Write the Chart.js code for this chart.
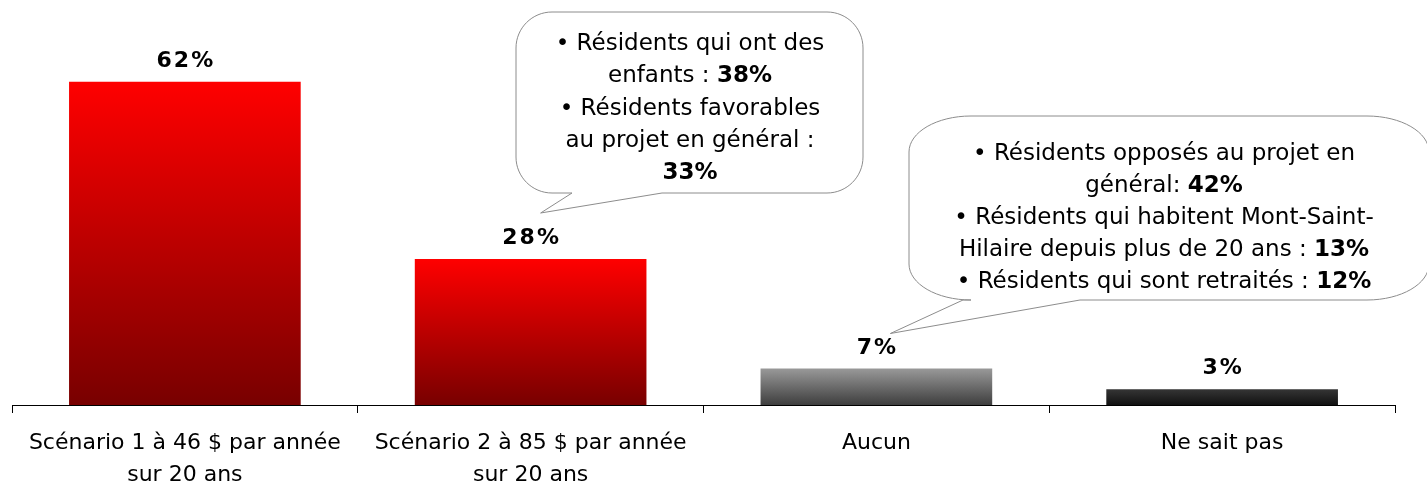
<!DOCTYPE html>
<html>
<head>
<meta charset="utf-8">
<script src="https://cdn.jsdelivr.net/npm/chart.js@4"></script>
<style>
  html, body { margin: 0; padding: 0; background: #fff; }
  #wrap { width: 1427px; height: 485px; }
</style>
</head>
<body>
<div id="wrap"><canvas id="chart" width="1427" height="485"></canvas></div>
<script>
// Data
const categories = [
  ['Scénario 1 à 46 $ par année', 'sur 20 ans'],
  ['Scénario 2 à 85 $ par année', 'sur 20 ans'],
  'Aucun',
  'Ne sait pas'
];
const values = [62, 28, 7, 3];

// Callout texts: each line is a list of [text, bold] pieces
const calloutScenario2 = [
  [['• Résidents qui ont des', false]],
  [['enfants : ', false], ['38%', true]],
  [['• Résidents favorables', false]],
  [['au projet en général :', false]],
  [['33%', true]]
];
const calloutAucun = [
  [['• Résidents opposés au projet en', false]],
  [['général: ', false], ['42%', true]],
  [['• Résidents qui habitent Mont-Saint-', false]],
  [['Hilaire depuis plus de 20 ans : ', false], ['13%', true]],
  [['• Résidents qui sont retraités : ', false], ['12%', true]]
];

const FONT = '"DejaVu Sans", sans-serif';

// gradient for each bar (top colour -> bottom colour)
const barColours = [
  ['#ff0000', '#780000'],
  ['#ff0000', '#780000'],
  ['#999999', '#3e3e3e'],
  ['#353535', '#111111']
];

function barFill(context) {
  const chart = context.chart;
  const c = barColours[context.dataIndex];
  const y = chart.scales.y;
  if (!chart.chartArea || !y) return c[0];
  const top = y.getPixelForValue(values[context.dataIndex]);
  const base = y.getPixelForValue(0);
  const g = chart.ctx.createLinearGradient(0, top, 0, base);
  g.addColorStop(0, c[0]);
  g.addColorStop(1, c[1]);
  return g;
}

// value labels above bars
const valueLabels = {
  id: 'valueLabels',
  afterDatasetsDraw(chart) {
    const ctx = chart.ctx;
    ctx.save();
    ctx.font = 'bold 22px ' + FONT;
    ctx.letterSpacing = '2px';
    ctx.fillStyle = '#000';
    ctx.textAlign = 'center';
    ctx.textBaseline = 'alphabetic';
    chart.getDatasetMeta(0).data.forEach((bar, i) => {
      ctx.fillText(values[i] + '%', bar.x + 1, bar.y - 15);
    });
    ctx.restore();
  }
};

function bubblePath(ctx, b, tip) {
  const { x, y, w, h, rx, ry, t1, t2 } = b;
  const k = 0.5523;
  ctx.beginPath();
  ctx.moveTo(x + rx, y);
  ctx.lineTo(x + w - rx, y);
  ctx.bezierCurveTo(x + w - rx + rx * k, y, x + w, y + ry - ry * k, x + w, y + ry);
  ctx.lineTo(x + w, y + h - ry);
  ctx.bezierCurveTo(x + w, y + h - ry + ry * k, x + w - rx + rx * k, y + h, x + w - rx, y + h);
  ctx.lineTo(t2, y + h);
  ctx.lineTo(tip.x, tip.y);
  ctx.lineTo(t1, y + h);
  ctx.lineTo(x + rx, y + h);
  ctx.bezierCurveTo(x + rx - rx * k, y + h, x, y + h - ry + ry * k, x, y + h - ry);
  ctx.lineTo(x, y + ry);
  ctx.bezierCurveTo(x, y + ry - ry * k, x + rx - rx * k, y, x + rx, y);
  ctx.closePath();
}

function drawLines(ctx, lines, cx, firstY, step) {
  lines.forEach((parts, li) => {
    const widths = parts.map(p => {
      ctx.font = (p[1] ? 'bold ' : '') + '23px ' + FONT;
      return ctx.measureText(p[0]).width;
    });
    const total = widths.reduce((a, b) => a + b, 0);
    let xx = cx - total / 2;
    parts.forEach((p, i) => {
      ctx.font = (p[1] ? 'bold ' : '') + '23px ' + FONT;
      ctx.fillText(p[0], xx, firstY + li * step);
      xx += widths[i];
    });
  });
}

const callouts = {
  id: 'callouts',
  afterDraw(chart) {
    const ctx = chart.ctx;
    const bars = chart.getDatasetMeta(0).data;
    const items = [
      { lines: calloutScenario2, bar: bars[1], dx: 10, dy: -46, cx: 690, firstY: 44, step: 32.3,
        box: { x: 516, y: 12, w: 347, h: 181, rx: 36, ry: 36, t1: 572, t2: 662 } },
      { lines: calloutAucun, bar: bars[2], dx: 14, dy: -35, cx: 1164, firstY: 154, step: 32,
        box: { x: 909, y: 116, w: 520, h: 184, rx: 62, ry: 36, t1: 963, t2: 1080 } }
    ];
    ctx.save();
    items.forEach(it => {
      const tip = { x: it.bar.x + it.dx, y: it.bar.y + it.dy };
      bubblePath(ctx, it.box, tip);
      ctx.fillStyle = '#fff';
      ctx.fill();
      ctx.strokeStyle = '#8c8c8c';
      ctx.lineWidth = 1;
      ctx.stroke();
      ctx.fillStyle = '#000';
      ctx.textAlign = 'left';
      ctx.textBaseline = 'middle';
      drawLines(ctx, it.lines, it.cx, it.firstY, it.step);
    });
    ctx.restore();
  }
};

new Chart(document.getElementById('chart'), {
  type: 'bar',
  data: {
    labels: categories,
    datasets: [{
      data: values,
      backgroundColor: barFill,
      borderWidth: 0,
      barPercentage: 0.67,
      categoryPercentage: 1
    }]
  },
  options: {
    responsive: false,
    animation: false,
    layout: { padding: { left: 12, right: 32, top: 40, bottom: 0 } },
    plugins: { legend: { display: false }, tooltip: { enabled: false } },
    scales: {
      x: {
        grid: { display: true, offset: true, drawOnChartArea: false, drawTicks: true, tickLength: 8, color: '#000', lineWidth: 1 },
        border: { display: true, color: '#000', width: 1 },
        ticks: { color: '#000', font: { family: FONT, size: 22, lineHeight: 1.45 }, padding: 14, maxRotation: 0, autoSkip: false },
        afterFit(scale) { scale.height = 80; }
      },
      y: { display: false, min: 0, max: 70 }
    }
  },
  plugins: [valueLabels, callouts]
});
</script>
</body>
</html>
